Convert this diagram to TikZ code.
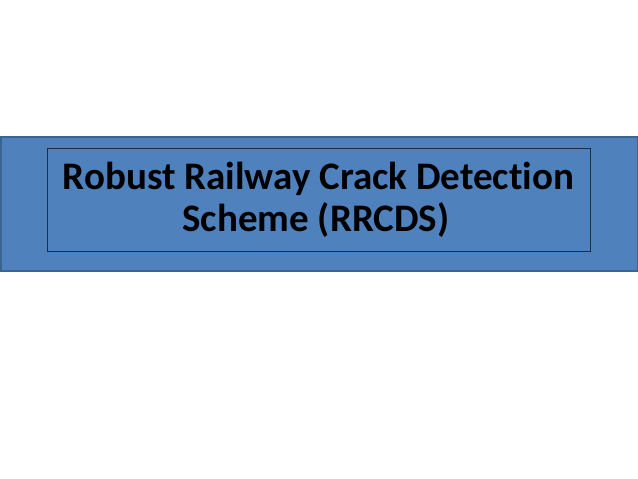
\documentclass[tikz,border=0pt]{standalone}
\usepackage{fontspec}
\setmainfont[Ligatures=NoCommon]{Carlito}
\definecolor{bandfill}{HTML}{4F81BD}
\definecolor{bandline}{HTML}{3A6592}
\definecolor{boxline}{HTML}{1A2F50}
\begin{document}
\begin{tikzpicture}[x=1pt,y=1pt,
  titletext/.style={anchor=base,inner sep=0pt,font=\fontsize{39}{42}\selectfont\bfseries,text=black}]
\useasboundingbox (0,0) rectangle (638,479);
\draw[fill=bandfill,draw=bandline,line width=1.5pt] (0.75,342) rectangle (637.25,208);
\node[draw=boxline,line width=0.9pt,minimum width=542.6pt,minimum height=102.7pt,inner sep=0pt] (box) at (319,279.35) {};
\node[titletext] (line1) at (318.5,289) {Robust Railway Crack Detection};
\node[titletext] (line2) at (316,247) {Scheme (RRCDS)};
\end{tikzpicture}
\end{document}
